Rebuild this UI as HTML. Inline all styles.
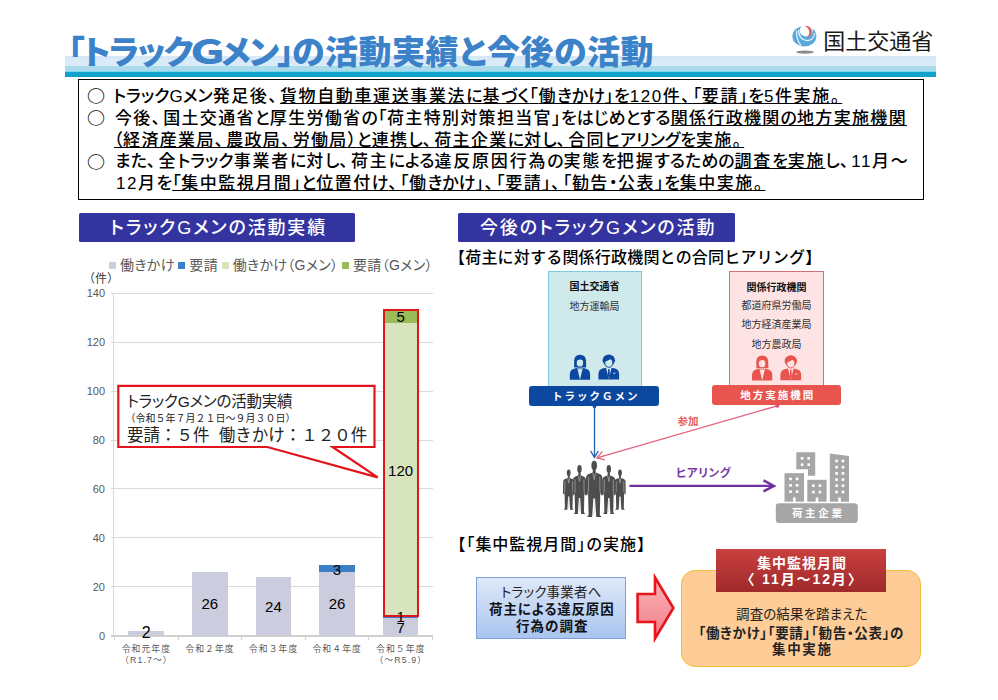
<!DOCTYPE html>
<html lang="ja">
<head>
<meta charset="utf-8">
<style>
*{margin:0;padding:0;box-sizing:border-box}
html,body{width:998px;height:700px;background:#fff;overflow:hidden}
body{position:relative;font-family:"Liberation Sans","Noto Sans CJK JP",sans-serif;color:#000}
.a{position:absolute;white-space:nowrap}
.jp{font-family:"Liberation Sans","Noto Sans CJK JP",sans-serif;font-feature-settings:"palt"}
/* header */
#band{left:65px;top:56px;width:871px;height:20.5px;background:linear-gradient(#d5e7f7 0px,#dcecf9 10px,#aadcec 10px,#aadcec 15.3px,#80d4ee 15.3px,#80d4ee 16.5px,#0ea3cc 16.5px,#0ea3cc 20.5px)}
#title{left:68px;top:31px;font-size:33px;font-weight:900;color:#3b82c9;line-height:44px;letter-spacing:0.5px}
#mlit{left:823.3px;top:28px;font-size:22px;line-height:28px;color:#1a1a1a;font-weight:400;font-family:"Liberation Sans","Noto Sans CJK JP",sans-serif}
/* text box */
#box{left:78px;top:79px;width:846px;height:121px;border:1.5px solid #000}
.ln{font-size:17px;line-height:22px;letter-spacing:1.9px;font-weight:500}
.k{letter-spacing:0px}
.p{letter-spacing:0.6px}
.c{letter-spacing:3px}
.d{letter-spacing:1.5px}
.ci{font-family:"Noto Sans CJK JP",sans-serif;font-size:18px;line-height:22px;font-weight:500;transform:scaleY(0.9);transform-origin:0 0}
u{text-decoration:underline;text-underline-offset:1px;text-decoration-thickness:1px}
/* headings */
.hd{background:#3434a0;border-radius:1.5px;color:#fff;font-weight:500;font-size:18px;line-height:30px;height:29px;letter-spacing:1.85px}
.lg{font-size:14px;line-height:18px;color:#595959;font-family:"Liberation Sans","Noto Sans CJK JP",sans-serif;font-feature-settings:"palt";word-spacing:-0.5px;letter-spacing:0.3px}
.lg i{display:inline-block;width:7px;height:7px;margin-right:4px;vertical-align:1px}
.ax{font-size:11px;line-height:14px;color:#595959;text-align:right}
.vl{width:60px;text-align:center;line-height:18px;color:#000}
.cl{width:64px;text-align:center;font-size:8.8px;line-height:11px;color:#595959;letter-spacing:1.1px;font-family:"Liberation Sans","Noto Sans CJK JP",sans-serif}
.co1{font-size:15.5px;letter-spacing:-0.2px;line-height:20px;color:#222;font-family:"Liberation Sans","Noto Sans CJK JP",sans-serif;font-feature-settings:"palt"}
.co2{font-size:10px;line-height:12px;color:#222;font-family:"Liberation Sans","Noto Sans CJK JP",sans-serif}
.co3{font-size:16.5px;line-height:20px;color:#222;font-family:"Liberation Sans","Noto Sans CJK JP",sans-serif}
.sub{font-size:16px;line-height:22px;color:#000;font-weight:500;font-family:"Liberation Sans","Noto Sans CJK JP",sans-serif;letter-spacing:0.2px}
.sm{margin-top:1px;font-size:10px;line-height:14px;color:#333;text-align:center;font-family:"Liberation Sans","Noto Sans CJK JP",sans-serif}
.b{font-weight:700;color:#111}
.bar{color:#fff;font-weight:700;font-size:10.5px;line-height:19px;text-align:center;border-radius:3px;letter-spacing:2px;font-family:"Liberation Sans","Noto Sans CJK JP",sans-serif;padding-left:3px;padding-top:1px}
.bt{font-size:13.5px;line-height:18px;text-align:center;color:#222;font-family:"Liberation Sans","Noto Sans CJK JP",sans-serif;font-feature-settings:"palt"}
.b2{font-weight:700;color:#111}
.ht{font-size:14px;line-height:18px;text-align:center;color:#fff;font-weight:700;font-family:"Liberation Sans","Noto Sans CJK JP",sans-serif}
.ot{font-size:13.5px;line-height:18px;text-align:center;color:#222;font-family:"Liberation Sans","Noto Sans CJK JP",sans-serif;font-feature-settings:"palt"}
</style>
</head>
<body>
<!-- header -->
<div id="band" class="a"></div>
<div id="title" class="a jp"><span style="letter-spacing:-1.6px">「トラック<span style="display:inline-block;transform:scaleX(1.3);margin:0 2px 0 1px">Ｇ</span>メン」</span><span style="margin-left:-0.5px">の活動実績と今後の活動</span></div>
<svg class="a" style="left:788px;top:22px" width="32" height="34" viewBox="788 22 32 34">
  <ellipse cx="805" cy="52.1" rx="8.8" ry="1.7" fill="#8a8a8a"/>
  <ellipse cx="804.4" cy="36.3" rx="12" ry="10.2" fill="#5aa8dc"/>
  <ellipse cx="806.2" cy="30.4" rx="6.6" ry="6" fill="#fff"/>
  <path d="M796.6,30.5 Q796.2,40 801,45.6" fill="none" stroke="#e6f4fb" stroke-width="1.2"/>
  <path d="M798.6,30 Q798.8,40.5 807.5,40.6 Q813.6,40.4 814.8,33" fill="none" stroke="#e6f4fb" stroke-width="1.3"/>
  <path d="M804.4,25.8 Q811.3,25.6 811.9,31.6 Q811.8,36.4 806.6,37.4 Q809.6,34.8 809.2,31.4 Q808.6,27.4 804.4,25.8 Z" fill="#e05a5e"/>
</svg>
<div id="mlit" class="a">国土交通省</div>

<!-- text box -->
<div id="box" class="a"></div>
<div class="a ln jp" id="l1" style="left:113px;top:86px;letter-spacing:1.62px"><span class="k">トラックGメン</span>発足後<span class="c">、</span><u>貨物自動車運送事業法<span class="k">に</span>基<span class="k">づく</span><span class="p">「</span>働<span class="k">きかけ</span><span class="p">」</span><span class="k">を<span class="d">120</span></span>件<span class="c">、</span><span class="p">「</span>要請<span class="p">」</span><span class="k">を<span class="d">5</span></span>件実施<span class="c">。</span></u></div>
<div class="a ln jp" id="l2" style="left:115px;top:108px;letter-spacing:1.33px">今後<span class="c">、</span>国土交通省<span class="k">と</span>厚生労働省<span class="k">の</span><span class="p">「</span>荷主特別対策担当官<span class="p">」</span><span class="k">をはじめとする</span><u>関係行政機関<span class="k">の</span>地方実施機関</u></div>
<div class="a ln jp" id="l3" style="left:114px;top:129.5px;letter-spacing:1.32px"><u><span class="p">（</span>経済産業局<span class="c">、</span>農政局<span class="c">、</span>労働局<span class="p">）</span><span class="k">と</span>連携<span class="k">し</span><span class="c">、</span>荷主企業<span class="k">に</span>対<span class="k">し</span><span class="c">、</span>合同<span class="k">ヒアリングを</span>実施<span class="c">。</span></u></div>
<div class="a ln jp" id="l4" style="left:115px;top:151px;letter-spacing:1.78px"><span class="k">また</span><span class="c">、</span>全<span class="k">トラック</span>事業者<span class="k">に</span>対<span class="k">し</span><span class="c">、</span>荷主<span class="k">による</span>違反原因行為<span class="k">の</span>実態<span class="k">を</span>把握<span class="k">するための</span><u>調査<span class="k">を</span>実施</u><span class="k">し</span><span class="c">、</span><span class="k"><span class="d">11</span></span>月<span class="k">～</span></div>
<div class="a ln jp" id="l5" style="left:116px;top:173px;letter-spacing:1.5px"><span class="k"><span class="d">12</span></span>月<span class="k">を</span><u><span class="p">「</span>集中監視月間<span class="p">」</span><span class="k">と</span>位置付<span class="k">け</span><span class="c">、</span><span class="p">「</span>働<span class="k">きかけ</span><span class="p">」</span><span class="c">、</span><span class="p">「</span>要請<span class="p">」</span><span class="c">、</span><span class="p">「</span>勧告<span class="k"><span class="p">・</span></span>公表<span class="p">」</span><span class="k">を</span>集中実施<span class="c">。</span></u></div>

<div class="a ci" style="left:87px;top:85px">○</div>
<div class="a ci" style="left:87px;top:107px">○</div>
<div class="a ci" style="left:87px;top:150.5px">○</div>
<!-- headings -->
<div class="a hd jp" style="left:79px;top:213px;width:276px;padding-left:31px">トラックGメンの活動実績</div>
<div class="a hd jp" style="left:458px;top:213px;width:277px;padding-left:22px">今後のトラックGメンの活動</div>

<!-- chart -->
<div class="a lg" style="left:109px;top:256px"><i style="background:#ccccdf"></i>働きかけ <i style="background:#3c7fc4"></i>要請 <i style="background:#d7e4bd"></i>働きかけ（Gメン） <i style="background:#9bbb59"></i>要請（Gメン）</div>
<div class="a" style="left:88.5px;top:271.5px;font-size:12px;line-height:14px;color:#404040;font-family:'Liberation Sans','Noto Sans CJK JP',sans-serif;font-feature-settings:'palt';letter-spacing:0.5px">（件）</div>
<div class="a" style="left:111px;top:586.1px;width:322px;height:1px;background:#d9d9d9"></div>
<div class="a" style="left:111px;top:537.2px;width:322px;height:1px;background:#d9d9d9"></div>
<div class="a" style="left:111px;top:488.4px;width:322px;height:1px;background:#d9d9d9"></div>
<div class="a" style="left:111px;top:439.5px;width:322px;height:1px;background:#d9d9d9"></div>
<div class="a" style="left:111px;top:390.6px;width:322px;height:1px;background:#d9d9d9"></div>
<div class="a" style="left:111px;top:341.7px;width:322px;height:1px;background:#d9d9d9"></div>
<div class="a" style="left:111px;top:292.8px;width:322px;height:1px;background:#d9d9d9"></div>
<div class="a" style="left:113px;top:293.3px;width:1px;height:342.2px;background:#d9d9d9"></div>
<div class="a" style="left:111px;top:635.0px;width:322px;height:1.5px;background:#d0d0d0"></div>
<div class="a" style="left:113.9px;top:635.5px;width:1px;height:4px;background:#d0d0d0"></div>
<div class="a" style="left:177.5px;top:635.5px;width:1px;height:4px;background:#d0d0d0"></div>
<div class="a" style="left:241.1px;top:635.5px;width:1px;height:4px;background:#d0d0d0"></div>
<div class="a" style="left:304.7px;top:635.5px;width:1px;height:4px;background:#d0d0d0"></div>
<div class="a" style="left:368.3px;top:635.5px;width:1px;height:4px;background:#d0d0d0"></div>
<div class="a" style="left:431.9px;top:635.5px;width:1px;height:4px;background:#d0d0d0"></div>
<div class="a ax" style="right:893px;top:628.5px">0</div>
<div class="a ax" style="right:893px;top:579.6px">20</div>
<div class="a ax" style="right:893px;top:530.7px">40</div>
<div class="a ax" style="right:893px;top:481.9px">60</div>
<div class="a ax" style="right:893px;top:433.0px">80</div>
<div class="a ax" style="right:893px;top:384.1px">100</div>
<div class="a ax" style="right:893px;top:335.2px">120</div>
<div class="a ax" style="right:893px;top:286.3px">140</div>
<div class="a" style="left:128.4px;top:630.6px;width:35.5px;height:4.9px;background:#ccccdf"></div>
<div class="a" style="left:192.0px;top:572.0px;width:35.5px;height:63.5px;background:#ccccdf"></div>
<div class="a" style="left:255.6px;top:576.8px;width:35.5px;height:58.7px;background:#ccccdf"></div>
<div class="a" style="left:319.2px;top:572.0px;width:35.5px;height:63.5px;background:#ccccdf"></div>
<div class="a" style="left:319.2px;top:564.6px;width:35.5px;height:7.3px;background:#3c7fc4"></div>
<div class="a" style="left:382.9px;top:618.4px;width:35.5px;height:17.1px;background:#ccccdf"></div>
<div class="a" style="left:382.9px;top:615.9px;width:35.5px;height:2.4px;background:#3c7fc4"></div>
<div class="a" style="left:382.9px;top:322.7px;width:35.5px;height:293.3px;background:#d7e4bd"></div>
<div class="a" style="left:382.9px;top:310.4px;width:35.5px;height:12.2px;background:#9bbb59"></div>
<div class="a" style="left:383.2px;top:309px;width:36px;height:307.5px;border:2.6px solid #e3141b"></div>
<div class="a vl" style="left:116.2px;top:624.1px;font-size:16px">2</div>
<div class="a vl" style="left:179.8px;top:594.7px;font-size:15px">26</div>
<div class="a vl" style="left:243.4px;top:598.2px;font-size:15px">24</div>
<div class="a vl" style="left:307.0px;top:594.7px;font-size:15px">26</div>
<div class="a vl" style="left:307.0px;top:560.8px;font-size:15px">3</div>
<div class="a vl" style="left:370.6px;top:619px;font-size:15px">7</div>
<div class="a vl" style="left:370.6px;top:608.2px;font-size:15px">1</div>
<div class="a vl" style="left:370.6px;top:461.8px;font-size:15px">120</div>
<div class="a vl" style="left:370.6px;top:307.6px;font-size:15px">5</div>
<div class="a cl" style="left:114.4px;top:643.5px">令和元年度<br>（R1.7～）</div>
<div class="a cl" style="left:178.0px;top:643.5px">令和２年度</div>
<div class="a cl" style="left:241.6px;top:643.5px">令和３年度</div>
<div class="a cl" style="left:305.2px;top:643.5px">令和４年度</div>
<div class="a cl" style="left:368.8px;top:643.5px">令和５年度<br>（～R5.9）</div>
<svg class="a" style="left:110px;top:380px" width="280" height="105" viewBox="110 380 280 105"><path d="M118.3 385.8 H374.5 V447 H332.6 L377.7 477.4 L267.4 447 H118.3 Z" fill="#fff" stroke="#e3141b" stroke-width="2.2" stroke-linejoin="miter"/></svg>
<div class="a co1" style="left:127px;top:392px">トラックGメンの活動実績</div>
<div class="a co2" style="left:125.5px;top:412.5px">（令和５年７月２１日～９月３０日）</div>
<div class="a co3" style="left:127px;top:424.5px">要請：５件&nbsp;&nbsp;働きかけ：１２０件</div>
<!-- /chart -->
<!-- right -->
<div class="a sub" style="left:449px;top:246.5px">【荷主に対する関係行政機関との合同ヒアリング】</div>
<div class="a" style="left:547.5px;top:271px;width:94px;height:120px;background:#d0e9eb;border:1.3px solid #7ccbe2"></div>
<div class="a" style="left:729.3px;top:271.4px;width:94.5px;height:120px;background:#fde3e4;border:1.3px solid #d07078"></div>
<div class="a sm b" style="left:547.5px;top:278.5px;width:94px">国土交通省</div>
<div class="a sm" style="left:547.5px;top:298.5px;width:94px">地方運輸局</div>
<div class="a sm b" style="left:729.3px;top:279.5px;width:94.5px">関係行政機関</div>
<div class="a sm" style="left:729.3px;top:298px;width:94.5px">都道府県労働局</div>
<div class="a sm" style="left:729.3px;top:317px;width:94.5px">地方経済産業局</div>
<div class="a sm" style="left:729.3px;top:337px;width:94.5px">地方農政局</div>
<svg class="a" style="left:560px;top:350px" width="280" height="35" viewBox="560 350 280 35">
<g transform="translate(569.8,354.8)" fill="#0c48a0">
<path d="M4.4,12.8 L4.3,6 Q4.6,0 10.2,0 Q15.9,0 16.2,6 L16.4,12.8 Z"/>
<ellipse cx="10.1" cy="7.9" rx="3.7" ry="4.4" fill="#d0e9eb" stroke="#0c48a0" stroke-width="1"/>
<path d="M6,7.2 Q6.6,2.6 10.6,2.4 Q14.8,2.6 14.6,7.8 Q13.2,4.4 10.2,4.6 Q7.6,5 6,7.2 Z"/>
<path d="M0,25 L0,19.5 Q0.3,14.6 5,13.8 L7.4,13 L10.2,25 L13,13 L15.4,13.8 Q20.1,14.6 20.3,19.5 L20.3,25 Z"/>
<path d="M8,13.9 H12.4" stroke="#0c48a0" stroke-width="0.9" stroke-dasharray="0.9 0.6" fill="none"/>
</g>
<g transform="translate(598.4,354.5)" fill="#0c48a0">
<ellipse cx="10.4" cy="5.8" rx="6.2" ry="5.8"/>
<ellipse cx="10.4" cy="8.3" rx="4.1" ry="4.5" fill="#d0e9eb" stroke="#0c48a0" stroke-width="1"/>
<path d="M4.8,7.8 Q5,1.4 10.8,1.6 Q15.8,2 15.9,7 Q14.4,4.6 11.8,4.8 Q8.6,6.8 4.8,7.8 Z"/>
<path d="M0,25 L0,19.5 Q0.3,14.6 5,13.8 L7.6,13.2 L10.4,24.6 L13.2,13.2 L15.8,13.8 Q20.5,14.6 20.7,19.5 L20.7,25 Z"/>
<path d="M9.7,14.6 L11.1,14.6 L11.5,21.6 L10.4,23.6 L9.3,21.6 Z"/>
<rect x="14.8" y="18.2" width="2.2" height="1.2" fill="#d0e9eb" opacity="0.8"/>
</g>
<g transform="translate(752,355.5)" fill="#e8554e">
<path d="M4.4,12.8 L4.3,6 Q4.6,0 10.2,0 Q15.9,0 16.2,6 L16.4,12.8 Z"/>
<ellipse cx="10.1" cy="7.9" rx="3.7" ry="4.4" fill="#fde3e4" stroke="#e8554e" stroke-width="1"/>
<path d="M6,7.2 Q6.6,2.6 10.6,2.4 Q14.8,2.6 14.6,7.8 Q13.2,4.4 10.2,4.6 Q7.6,5 6,7.2 Z"/>
<path d="M0,25 L0,19.5 Q0.3,14.6 5,13.8 L7.4,13 L10.2,25 L13,13 L15.4,13.8 Q20.1,14.6 20.3,19.5 L20.3,25 Z"/>
<path d="M8,13.9 H12.4" stroke="#e8554e" stroke-width="0.9" stroke-dasharray="0.9 0.6" fill="none"/>
</g>
<g transform="translate(780.4,355.2)" fill="#e8554e">
<ellipse cx="10.4" cy="5.8" rx="6.2" ry="5.8"/>
<ellipse cx="10.4" cy="8.3" rx="4.1" ry="4.5" fill="#fde3e4" stroke="#e8554e" stroke-width="1"/>
<path d="M4.8,7.8 Q5,1.4 10.8,1.6 Q15.8,2 15.9,7 Q14.4,4.6 11.8,4.8 Q8.6,6.8 4.8,7.8 Z"/>
<path d="M0,25 L0,19.5 Q0.3,14.6 5,13.8 L7.6,13.2 L10.4,24.6 L13.2,13.2 L15.8,13.8 Q20.5,14.6 20.7,19.5 L20.7,25 Z"/>
<path d="M9.7,14.6 L11.1,14.6 L11.5,21.6 L10.4,23.6 L9.3,21.6 Z"/>
<rect x="14.8" y="18.2" width="2.2" height="1.2" fill="#fde3e4" opacity="0.8"/>
</g>
</svg>
<div class="a bar" style="left:529.3px;top:385.5px;width:129.8px;height:20.1px;background:#0c48a0">トラックＧメン</div>
<div class="a bar" style="left:711.8px;top:385.3px;width:128.8px;height:19.8px;background:#e8554e">地方実施機関</div>
<svg class="a" style="left:540px;top:400px" width="330" height="130" viewBox="540 400 330 130">
<circle cx="594.5" cy="406.5" r="1.8" fill="#0c48a0"/>
<line x1="594.5" y1="406" x2="594.5" y2="457" stroke="#1f5fb0" stroke-width="1.3"/>
<path d="M590.6,451 L594.5,457.4 L598.4,451" fill="none" stroke="#1f5fb0" stroke-width="1.3"/>
<circle cx="777.3" cy="405.8" r="2" fill="#e54c6a"/>
<line x1="777.3" y1="405.8" x2="597" y2="457.8" stroke="#e6617a" stroke-width="1.3"/>
<path d="M602.3,451.3 L597,457.8 L604.8,459.8" fill="none" stroke="#e6617a" stroke-width="1.3"/>
<line x1="629.4" y1="485.9" x2="773" y2="485.9" stroke="#7030a0" stroke-width="2.4"/>
<path d="M763.5,480.4 L774,485.9 L763.5,491.4" fill="none" stroke="#7030a0" stroke-width="2.4" stroke-linejoin="miter"/>
</svg>
<div class="a" style="left:677.5px;top:413.5px;font-size:10.5px;line-height:14px;font-weight:700;color:#e0605a;font-family:'Liberation Sans','Noto Sans CJK JP',sans-serif">参加</div>
<div class="a" style="left:676px;top:466px;font-size:11.5px;line-height:15px;font-weight:700;color:#7a3aa8;font-family:'Liberation Sans','Noto Sans CJK JP',sans-serif;font-feature-settings:'palt';letter-spacing:0.6px">ヒアリング</div>
<svg class="a" style="left:555px;top:455px" width="80" height="68" viewBox="555 455 80 68"><g fill="#4d4d4d">
<g transform="translate(562.95,469.4) scale(0.575,0.677)"><ellipse cx="10" cy="5" rx="3.3" ry="5"/><path d="M8.4,9.5 L11.6,9.5 L11.8,12.6 L16.6,14.2 Q19.4,15 19.6,18 L20,36 L18.2,37 L17.2,33 L16.6,57.5 L18.4,59.6 L12.4,59.6 L11,40 L9,40 L7.6,59.6 L1.6,59.6 L3.4,57.5 L2.8,33 L1.8,37 L0,36 L0.4,18 Q0.6,15 3.4,14.2 L8.2,12.6 Z"/><path d="M8.3,12.8 L10,20 L11.7,12.8 M3.4,17.5 L3.2,33.5 M16.6,17.5 L16.8,33.5 M10,41 L10,57" fill="none" stroke="#c8c8c8" stroke-width="0.55" vector-effect="non-scaling-stroke"/></g>
<g transform="translate(614.25,469.4) scale(0.575,0.677)"><ellipse cx="10" cy="5" rx="3.3" ry="5"/><path d="M8.4,9.5 L11.6,9.5 L11.8,12.6 L16.6,14.2 Q19.4,15 19.6,18 L20,36 L18.2,37 L17.2,33 L16.6,57.5 L18.4,59.6 L12.4,59.6 L11,40 L9,40 L7.6,59.6 L1.6,59.6 L3.4,57.5 L2.8,33 L1.8,37 L0,36 L0.4,18 Q0.6,15 3.4,14.2 L8.2,12.6 Z"/><path d="M8.3,12.8 L10,20 L11.7,12.8 M3.4,17.5 L3.2,33.5 M16.6,17.5 L16.8,33.5 M10,41 L10,57" fill="none" stroke="#c8c8c8" stroke-width="0.55" vector-effect="non-scaling-stroke"/></g>
<g transform="translate(572.75,465) scale(0.675,0.823)"><ellipse cx="10" cy="5" rx="3.3" ry="5"/><path d="M8.4,9.5 L11.6,9.5 L11.8,12.6 L16.6,14.2 Q19.4,15 19.6,18 L20,36 L18.2,37 L17.2,33 L16.6,57.5 L18.4,59.6 L12.4,59.6 L11,40 L9,40 L7.6,59.6 L1.6,59.6 L3.4,57.5 L2.8,33 L1.8,37 L0,36 L0.4,18 Q0.6,15 3.4,14.2 L8.2,12.6 Z"/><path d="M8.3,12.8 L10,20 L11.7,12.8 M3.4,17.5 L3.2,33.5 M16.6,17.5 L16.8,33.5 M10,41 L10,57" fill="none" stroke="#c8c8c8" stroke-width="0.55" vector-effect="non-scaling-stroke"/></g>
<g transform="translate(602.05,465) scale(0.675,0.823)"><ellipse cx="10" cy="5" rx="3.3" ry="5"/><path d="M8.4,9.5 L11.6,9.5 L11.8,12.6 L16.6,14.2 Q19.4,15 19.6,18 L20,36 L18.2,37 L17.2,33 L16.6,57.5 L18.4,59.6 L12.4,59.6 L11,40 L9,40 L7.6,59.6 L1.6,59.6 L3.4,57.5 L2.8,33 L1.8,37 L0,36 L0.4,18 Q0.6,15 3.4,14.2 L8.2,12.6 Z"/><path d="M8.3,12.8 L10,20 L11.7,12.8 M3.4,17.5 L3.2,33.5 M16.6,17.5 L16.8,33.5 M10,41 L10,57" fill="none" stroke="#c8c8c8" stroke-width="0.55" vector-effect="non-scaling-stroke"/></g>
<g transform="translate(585.70,460.7) scale(0.850,0.943)"><ellipse cx="10" cy="5" rx="3.3" ry="5"/><path d="M8.4,9.5 L11.6,9.5 L11.8,12.6 L16.6,14.2 Q19.4,15 19.6,18 L20,36 L18.2,37 L17.2,33 L16.6,57.5 L18.4,59.6 L12.4,59.6 L11,40 L9,40 L7.6,59.6 L1.6,59.6 L3.4,57.5 L2.8,33 L1.8,37 L0,36 L0.4,18 Q0.6,15 3.4,14.2 L8.2,12.6 Z"/><path d="M8.3,12.8 L10,20 L11.7,12.8 M3.4,17.5 L3.2,33.5 M16.6,17.5 L16.8,33.5 M10,41 L10,57" fill="none" stroke="#c8c8c8" stroke-width="0.55" vector-effect="non-scaling-stroke"/></g>
</g></svg>
<svg class="a" style="left:770px;top:445px" width="95" height="82" viewBox="770 445 95 82">
<g fill="#a6a6a6">
<path d="M796.3,452.2 H815.2 V475.7 H808 V469.3 H796.3 Z"/>
<rect x="784.5" y="473.2" width="19.5" height="28.5"/>
<rect x="807.3" y="479.8" width="19.3" height="21.9"/>
<path d="M829.8,453.5 L849,456 V501.7 H829.8 Z"/>
<rect x="775.8" y="503.2" width="82" height="19.7" rx="3.2"/>
</g><g fill="#fff">
<rect x="800.8" y="457.0" width="2.6" height="2.6"/><rect x="807.4" y="457.0" width="2.6" height="2.6"/><rect x="800.8" y="463.4" width="2.6" height="2.6"/><rect x="807.4" y="463.4" width="2.6" height="2.6"/>
<rect x="789.2" y="477.6" width="2.6" height="2.6"/><rect x="795.8" y="477.6" width="2.6" height="2.6"/><rect x="789.2" y="484.0" width="2.6" height="2.6"/><rect x="795.8" y="484.0" width="2.6" height="2.6"/><rect x="789.2" y="490.4" width="2.6" height="2.6"/><rect x="795.8" y="490.4" width="2.6" height="2.6"/>
<rect x="812.0" y="484.4" width="2.6" height="2.6"/><rect x="818.6" y="484.4" width="2.6" height="2.6"/><rect x="812.0" y="490.8" width="2.6" height="2.6"/><rect x="818.6" y="490.8" width="2.6" height="2.6"/>
<rect x="835.3" y="459.7" width="2.6" height="2.6"/><rect x="841.7" y="459.7" width="2.6" height="2.6"/><rect x="835.3" y="465.9" width="2.6" height="2.6"/><rect x="841.7" y="465.9" width="2.6" height="2.6"/><rect x="835.3" y="472.1" width="2.6" height="2.6"/><rect x="841.7" y="472.1" width="2.6" height="2.6"/><rect x="835.3" y="478.3" width="2.6" height="2.6"/><rect x="841.7" y="478.3" width="2.6" height="2.6"/><rect x="835.3" y="484.5" width="2.6" height="2.6"/><rect x="841.7" y="484.5" width="2.6" height="2.6"/><rect x="835.3" y="490.7" width="2.6" height="2.6"/><rect x="841.7" y="490.7" width="2.6" height="2.6"/>
<rect x="793" y="497.5" width="2.6" height="4.5"/><rect x="815.7" y="497.5" width="2.6" height="4.5"/><rect x="838.2" y="497.5" width="2.6" height="4.5"/>
</g></svg>
<div class="a bar" style="left:775.8px;top:503.2px;width:82px;height:19.7px;background:transparent;letter-spacing:2.7px;font-size:10.5px">荷主企業</div>
<!-- /right -->
<!-- bottom -->
<div class="a sub" style="left:449.5px;top:534px;letter-spacing:0.95px">【「集中監視月間<span style="letter-spacing:-7px">」</span>の実施】</div>
<div class="a" style="left:476.3px;top:576.6px;width:150px;height:62px;border:1.2px solid #7f9fd8;background:linear-gradient(#dfe8f8,#a9c5ef)"></div>
<div class="a bt" style="left:476.3px;top:583.5px;width:150px;letter-spacing:0.2px">トラック事業者へ</div>
<div class="a bt b2" style="left:476.8px;top:601px;width:150px;letter-spacing:0.8px">荷主による違反原因</div>
<div class="a bt b2" style="left:477.3px;top:618px;width:150px;letter-spacing:1.1px">行為の調査</div>
<svg class="a" style="left:630px;top:570px" width="50" height="75" viewBox="630 570 50 75">
<defs><linearGradient id="ag" x1="0" y1="0" x2="0" y2="1"><stop offset="0" stop-color="#f9b4b8"/><stop offset="1" stop-color="#f27f88"/></linearGradient></defs>
<path d="M637.6,594 H655 V577.5 L673.4,608 L655,638.5 V622 H637.6 Z" fill="url(#ag)" stroke="#e8141c" stroke-width="2.6" stroke-linejoin="miter"/>
</svg>
<div class="a" style="left:681.2px;top:570px;width:239.6px;height:96.5px;border-radius:14px;background:#fdcc97;border:1.4px solid #f2bd3a"></div>
<div class="a" style="left:716.4px;top:549.1px;width:169.3px;height:42.6px;background:linear-gradient(#c9403f,#9f2a2b)"></div>
<div class="a ht" style="left:717.4px;top:553.5px;width:169.3px;letter-spacing:1px">集中監視月間</div>
<div class="a ht" style="left:717.4px;top:570px;width:169.3px;letter-spacing:1.9px">〈 11月～12月〉</div>
<div class="a ot" style="left:682px;top:606px;width:239.6px;letter-spacing:0.1px">調査の結果を踏まえた</div>
<div class="a ot b2" style="left:681.5px;top:624.5px;width:239.6px;letter-spacing:0.7px">「働きかけ」「要請」「勧告・公表」の</div>
<div class="a ot b2" style="left:682.5px;top:641px;width:239.6px;letter-spacing:1.6px">集中実施</div>
<!-- /bottom -->
</body>
</html>
